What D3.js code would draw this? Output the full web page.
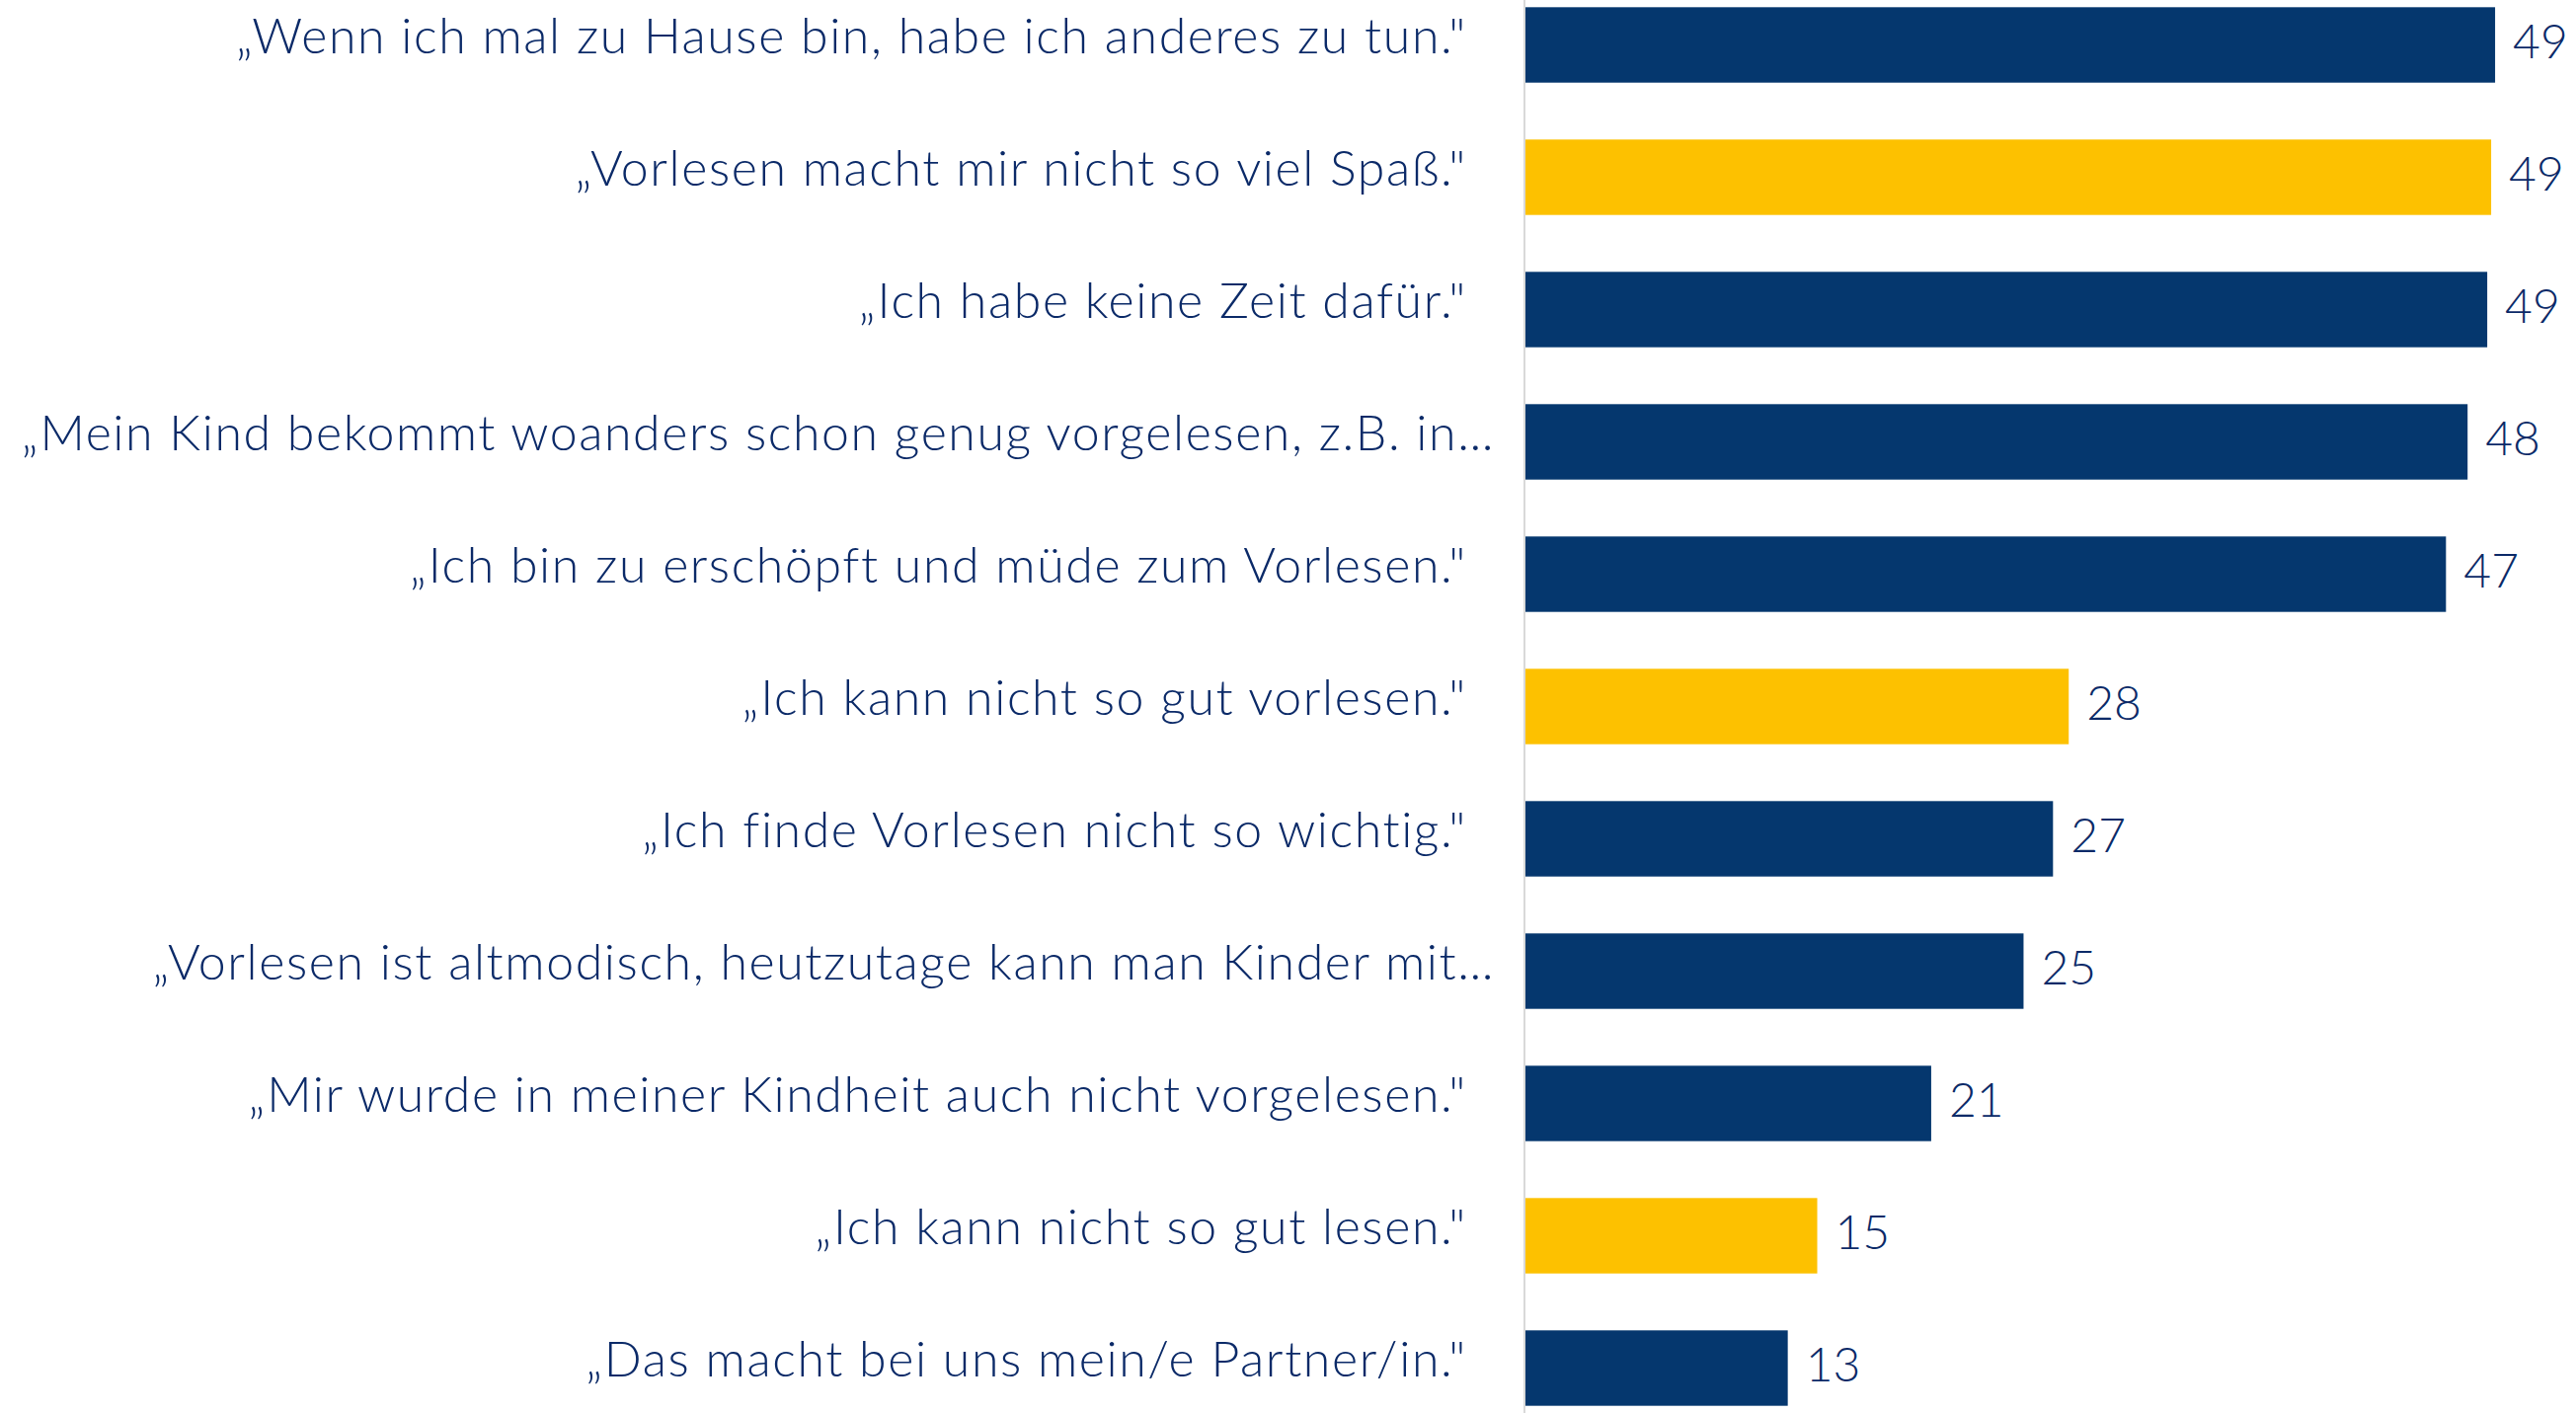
<!DOCTYPE html>
<html>
<head>
<meta charset="utf-8">
<script src="https://cdn.jsdelivr.net/npm/d3@7"></script>
<style>
  body { margin: 0; background: #fff; }
  text { font-family: Lato, "Open Sans", sans-serif; font-weight: 300; }
</style>
</head>
<body>
<script>
//chart data
var categories = [
    '„Wenn ich mal zu Hause bin, habe ich anderes zu tun."',
    '„Vorlesen macht mir nicht so viel Spaß."',
    '„Ich habe keine Zeit dafür."',
    '„Mein Kind bekommt woanders schon genug vorgelesen, z.B. in…',
    '„Ich bin zu erschöpft und müde zum Vorlesen."',
    '„Ich kann nicht so gut vorlesen."',
    '„Ich finde Vorlesen nicht so wichtig."',
    '„Vorlesen ist altmodisch, heutzutage kann man Kinder mit…',
    '„Mir wurde in meiner Kindheit auch nicht vorgelesen."',
    '„Ich kann nicht so gut lesen."',
    '„Das macht bei uns mein/e Partner/in."'
];
var values = [49.4, 49.2, 49.0, 48.0, 46.9, 27.7, 26.9, 25.4, 20.7, 14.9, 13.4];
var highlighted = [false, true, false, false, false, true, false, false, false, true, false];

window.onload = drawChart();

function drawChart(){

    var width = 2609,
        height = 1431;

    var navy = '#05376e',
        yellow = '#fdc100',
        textColor = '#0b2a68';

    var svg = d3.select('body')
        .append('svg')
        .attr('width', width)
        .attr('height', height);

    //axis sits at x=1544, one unit ~ 19.9px
    var x = d3.scaleLinear()
        .domain([0, 50])
        .range([1544, 1544 + 50 * 19.9]);

    var y = d3.scaleBand()
        .domain(categories)
        .range([-21.5, 1452.5])
        .paddingInner(0.43)
        .paddingOuter(0.215);

    //thin grey baseline
    svg.append('line')
        .attr('x1', x(0)).attr('x2', x(0))
        .attr('y1', 0).attr('y2', height)
        .attr('stroke', '#d9d9d9')
        .attr('stroke-width', 2);

    svg.selectAll('.bar')
        .data(values)
        .enter()
        .append('rect')
        .attr('class', 'bar')
        .attr('x', x(0) + 1)
        .attr('y', function(d, i){ return y(categories[i]); })
        .attr('width', function(d){ return x(d) - x(0) - 1; })
        .attr('height', y.bandwidth())
        .attr('fill', function(d, i){ return highlighted[i] ? yellow : navy; });

    //value labels
    svg.selectAll('.value')
        .data(values)
        .enter()
        .append('text')
        .attr('class', 'value')
        .attr('x', function(d){ return x(d) + 18; })
        .attr('y', function(d, i){ return y(categories[i]) + y.bandwidth() / 2 + 13; })
        .attr('fill', textColor)
        .attr('font-size', 48)
        .text(function(d){ return d3.format('.0f')(d); });

    //category labels, truncated ones run a bit closer to the axis
    svg.selectAll('.label')
        .data(categories)
        .enter()
        .append('text')
        .attr('class', 'label')
        .attr('x', function(d){ return d.slice(-1) === '…' ? x(0) - 30 : x(0) - 58; })
        .attr('y', function(d){ return y(d) + y.bandwidth() / 2 + 8; })
        .attr('text-anchor', 'end')
        .attr('fill', textColor)
        .attr('font-size', 50)
        .attr('letter-spacing', 1.6)
        .text(function(d){ return d; });
}
</script>
</body>
</html>
